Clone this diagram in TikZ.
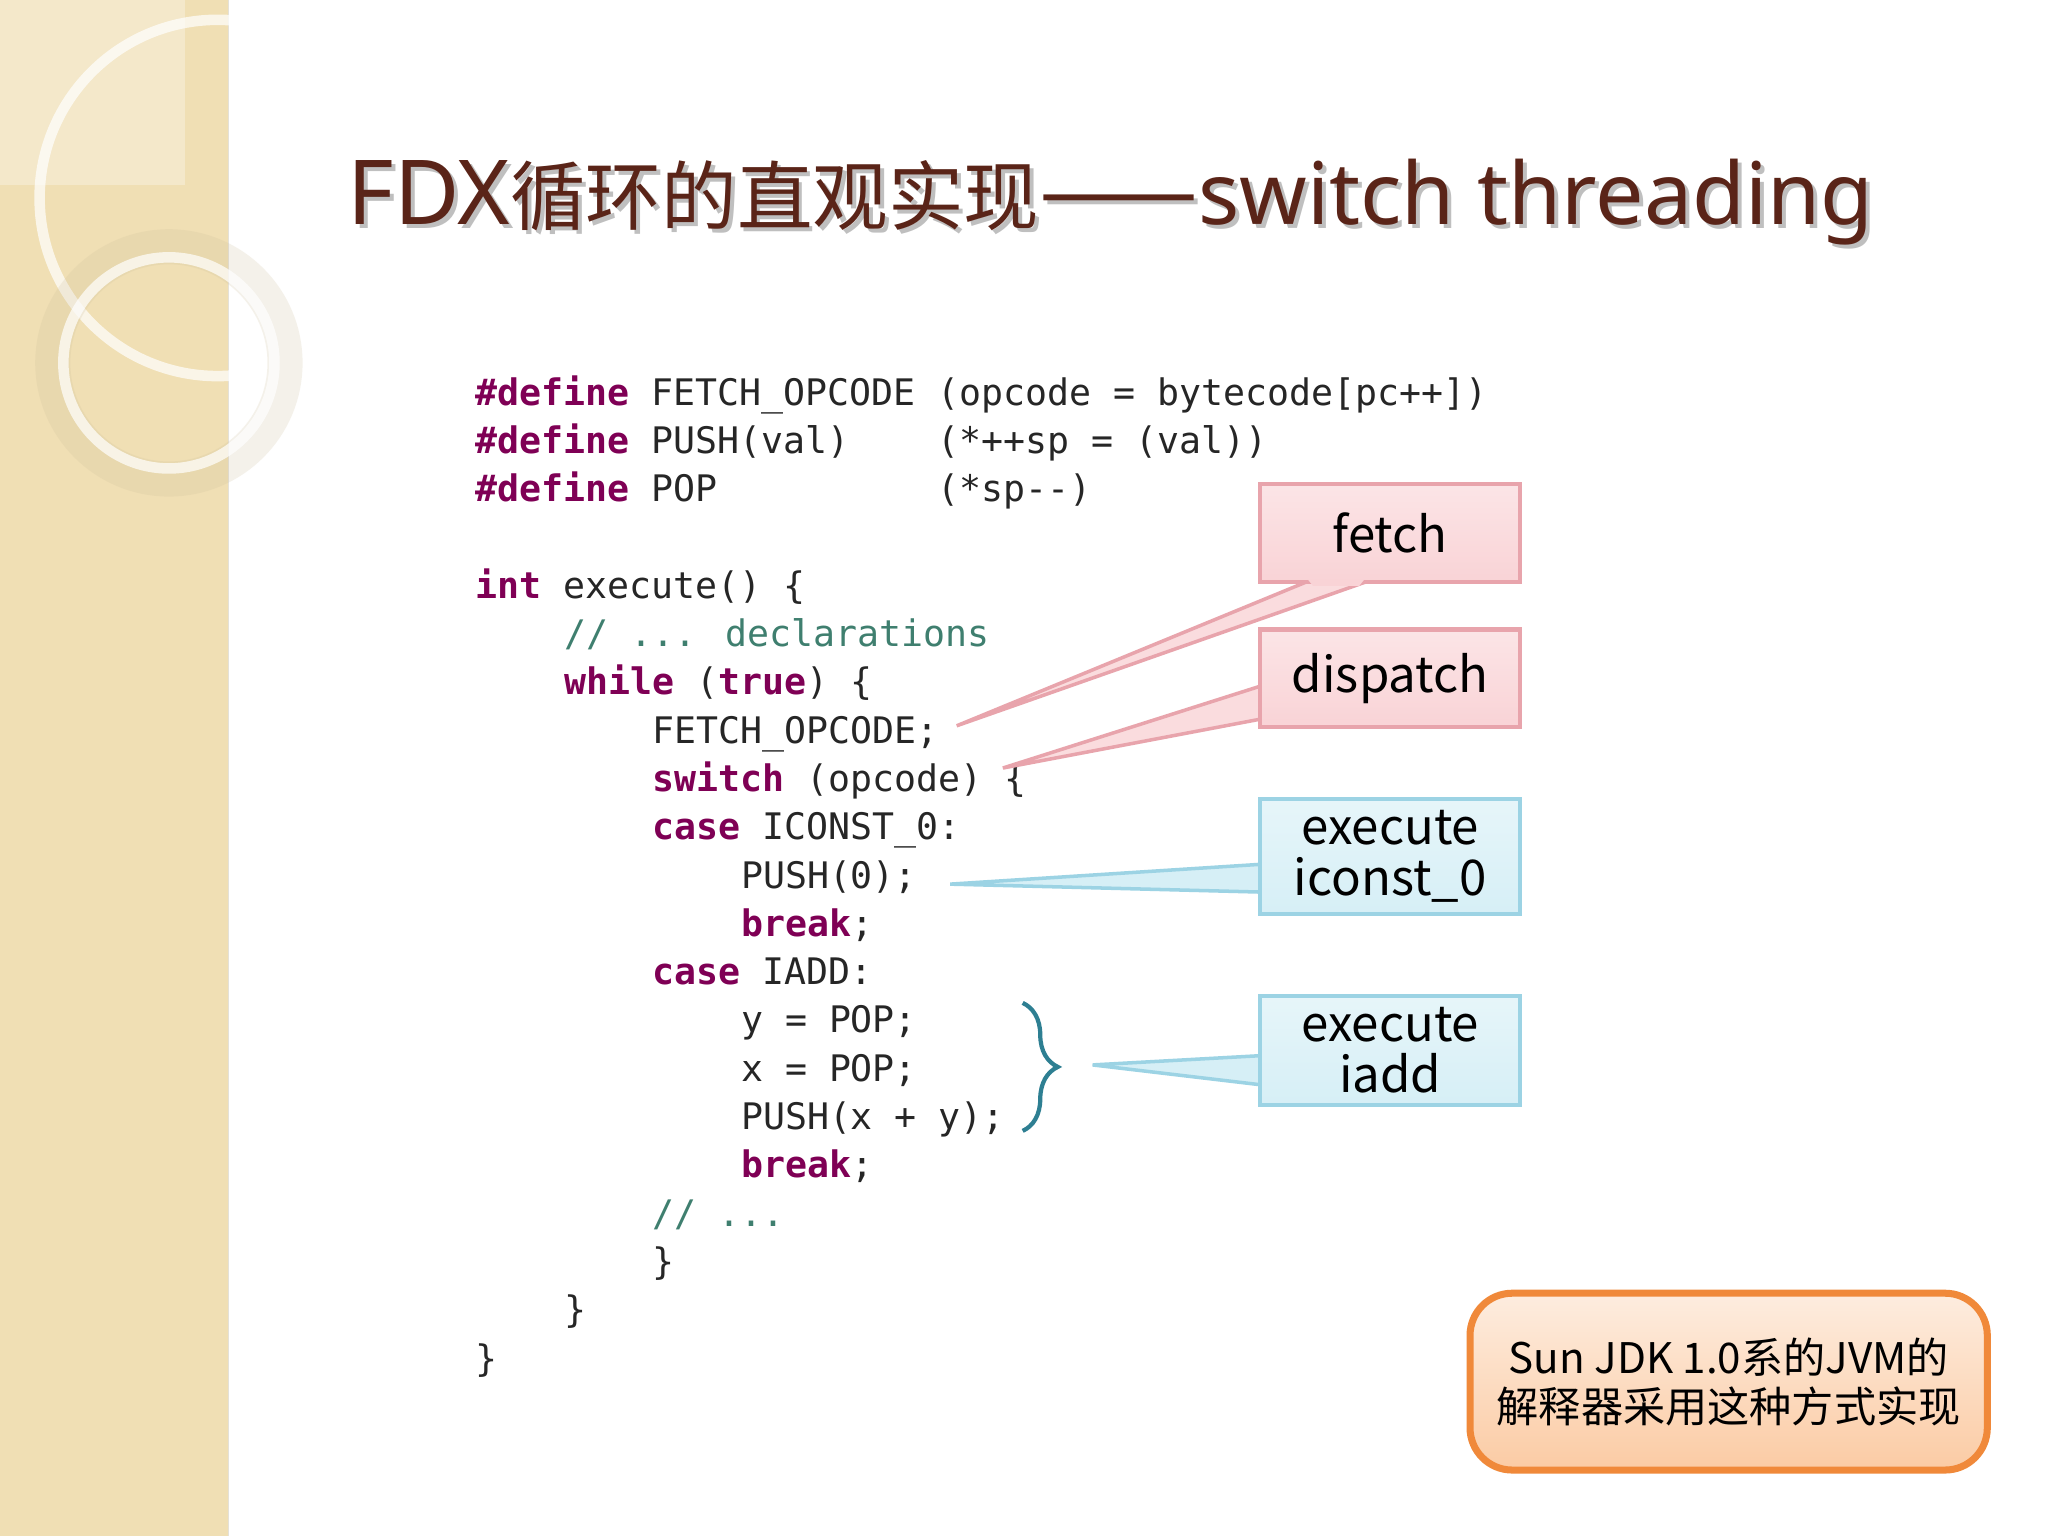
\documentclass[tikz,border=0pt]{standalone}
\usepackage{fontspec}
\usetikzlibrary{decorations.pathreplacing}
\newfontfamily\cjk{Noto Sans CJK SC}
\newfontfamily\lat{Noto Sans}
\newfontfamily\mono{DejaVu Sans Mono}
\definecolor{band}{HTML}{F0DFB4}
\definecolor{titlec}{HTML}{5A2418}
\definecolor{kw}{HTML}{7F0055}
\definecolor{cmt}{HTML}{3F7F6F}
\definecolor{pinkf}{HTML}{F9D3D6}
\definecolor{pinkd}{HTML}{E8A4AC}
\definecolor{bluef}{HTML}{D6EFF6}
\definecolor{blued}{HTML}{9CD3E4}
\definecolor{orf}{HTML}{FBCBA4}
\definecolor{ord}{HTML}{F0893A}
\definecolor{bracec}{HTML}{2E7F92}
\newcommand\kw[1]{\textcolor{kw}{\textbf{#1}}}
\newcommand\cm[1]{\textcolor{cmt}{#1}}
\newcommand\titletext{{\lat\fontsize{25.5}{30}\selectfont FDX}{\cjk\fontsize{21.5}{30}\selectfont 循环的直观实现}{\cjk\fontsize{27}{30}\selectfont ——}{\lat\fontsize{24.5}{30}\selectfont switch threading}}
\tikzset{
  code/.style={anchor=base west,inner sep=0pt,font=\mono\fontsize{10.4}{12}\selectfont,text=black!85},
  pinkbox/.style={draw=pinkd,line width=1.2pt,top color=pinkf!60,bottom color=pinkf,font=\cjk\fontsize{14}{16}\selectfont,align=center},
  bluebox/.style={draw=blued,line width=1.2pt,top color=bluef!60,bottom color=bluef,font=\cjk\fontsize{14}{14.5}\selectfont,align=center},
}
\begin{document}
\begin{tikzpicture}[x=0.0132cm,y=-0.0132cm]
\useasboundingbox (0,0) rectangle (1552,1164);
% background band
\fill[white] (0,0) rectangle (1552,1164);
\fill[band] (0,0) rectangle (173,1164);
\fill[white,opacity=.3] (0,0) rectangle (140,140);
\draw[band!70!black,opacity=.3] (173,0) -- (173,1164);
\begin{scope}
\clip (0,0) rectangle (300,400);
\draw[white,line width=3pt,opacity=.7] (165,150) circle (135);
\draw[band!85!black,line width=10pt,opacity=.2] (128,275) circle (88);
\draw[white,line width=3pt,opacity=.7] (128,275) circle (80);
\end{scope}
% title
\node[anchor=base west,inner sep=0pt,text=black,opacity=.25] at (266,173) {\titletext};
\node[anchor=base west,inner sep=0pt,text=titlec] (title) at (263,170) {\titletext};
% code
\node[code] (l1) at (360,307) {\kw{\#define} FETCH\_OPCODE (opcode = bytecode[pc++])};
\node[code] (l2) at (360,343.6) {\kw{\#define} PUSH(val)\phantom{0000}(*++sp = (val))};
\node[code] (l3) at (360,380.2) {\kw{\#define} POP\phantom{0000000000}(*sp--)};
\node[code] (l5) at (360,453.4) {\kw{int} execute() \{};
\node[code] (l6) at (427,490) {\cm{// ... declarations}};
\node[code] (l7) at (427,526.6) {\kw{while} (\kw{true}) \{};
\node[code] (l8) at (494,563.2) {FETCH\_OPCODE;};
\node[code] (l9) at (494,599.8) {\kw{switch} (opcode) \{};
\node[code] (l10) at (494,636.4) {\kw{case} ICONST\_0:};
\node[code] (l11) at (561,673) {PUSH(0);};
\node[code] (l12) at (561,709.6) {\kw{break};};
\node[code] (l13) at (494,746.2) {\kw{case} IADD:};
\node[code] (l14) at (561,782.8) {y = POP;};
\node[code] (l15) at (561,819.4) {x = POP;};
\node[code] (l16) at (561,856) {PUSH(x + y);};
\node[code] (l17) at (561,892.6) {\kw{break};};
\node[code] (l18) at (494,929.2) {\cm{// ...}};
\node[code] (l19) at (494,965.8) {\}};
\node[code] (l20) at (427,1002.4) {\}};
\node[code] (l21) at (360,1039) {\}};
% brace
\coordinate (bt) at (775,760);
\coordinate (bb) at (775,857);
\draw[bracec,line width=1.2pt,decorate,decoration={brace,amplitude=10,aspect=0.5}] (bt) -- (bb);
% callout pointers
\coordinate (pf) at (725,550);
\coordinate (pd) at (760,582);
\coordinate (pi) at (720,670);
\coordinate (pa) at (828,807);
\fill[pinkf!80,draw=pinkd,line width=1pt] (990,441) -- (pf) -- (1035,441) -- cycle;
\fill[pinkf!80,draw=pinkd,line width=1pt] (955,520) -- (pd) -- (955,545) -- cycle;
\fill[bluef,draw=blued,line width=1pt] (955,655) -- (pi) -- (955,676) -- cycle;
\fill[bluef,draw=blued,line width=1pt] (955,800) -- (pa) -- (955,822) -- cycle;
% boxes
\node[pinkbox,minimum width=197*0.0132cm,minimum height=74*0.0132cm] (fetch) at (1053.5,404) {fetch};
\node[pinkbox,minimum width=197*0.0132cm,minimum height=74*0.0132cm] (disp) at (1053.5,514) {dispatch};
\node[bluebox,minimum width=197*0.0132cm,minimum height=74*0.0132cm] (exi) at (1053.5,649) {execute\\iconst\_0};
\node[bluebox,minimum width=197*0.0132cm,minimum height=74*0.0132cm] (exa) at (1053.5,796) {execute\\iadd};
\fill[pinkf] (991,439) -- (1034,439) -- (1030,444) -- (995,444) -- cycle;
% note
\node[draw=ord,line width=2pt,rounded corners=12pt,top color=orf!35,bottom color=orf,
  minimum width=392*0.0132cm,minimum height=134*0.0132cm,align=center,
  font=\cjk\fontsize{12}{14}\selectfont] (note) at (1310,1047) {Sun JDK 1.0系的JVM的\\解释器采用这种方式实现};
\end{tikzpicture}
\end{document}
